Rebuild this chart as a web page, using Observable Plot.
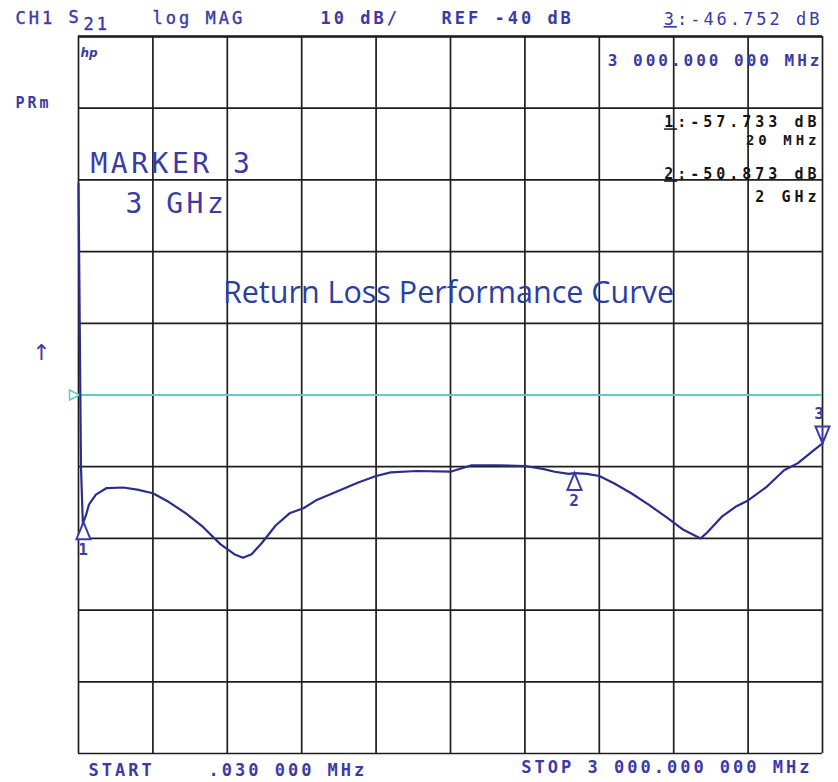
<!DOCTYPE html>
<html>
<head>
<meta charset="utf-8">
<script src="https://cdn.jsdelivr.net/npm/d3@7"></script>
<script src="https://cdn.jsdelivr.net/npm/@observablehq/plot@0.6"></script>
<style>
  html, body { margin: 0; padding: 0; background: #ffffff; }
  #chart svg { display: block; }
</style>
</head>
<body>
<div id="chart"></div>
<script>
const freqMHz = [0.03, 10, 18, 20, 30, 42, 70, 112, 181, 237,
  300, 363, 433, 502, 572, 628, 663, 698, 740, 795,
  851, 907, 963, 1047, 1128, 1200, 1259, 1363, 1500, 1585,
  1689, 1800, 1872, 1920, 1977, 2000, 2050, 2100, 2159, 2229,
  2299, 2369, 2439, 2509, 2537, 2593, 2649, 2700, 2775, 2845,
  2901, 2958, 3000];
const magDB = [-10.5, -50, -58.5, -57.7, -56.8, -55.3, -53.9, -53.0, -52.9, -53.2,
  -53.7, -54.9, -56.5, -58.4, -60.8, -62.2, -62.7, -62.2, -60.6, -58.2,
  -56.5, -55.8, -54.6, -53.4, -52.2, -51.3, -50.8, -50.6, -50.7, -49.8,
  -49.8, -49.9, -50.3, -50.7, -51.0, -50.9, -51.0, -51.3, -52.3, -53.7,
  -55.3, -57.0, -58.8, -60.0, -59.1, -57.0, -55.6, -54.7, -52.8, -50.5,
  -49.5, -47.9, -46.75];

const markerIds = [1, 2, 3];
const markerFreqMHz = [20, 2000, 3000];
const markerDB = [-57.733, -50.873, -46.752];

const refLevelDB = -40;
const xGridMHz = [0, 300, 600, 900, 1200, 1500, 1800, 2100, 2400, 2700, 3000];
const yGridDB = [10, 0, -10, -20, -30, -40, -50, -60, -70, -80, -90];

// ---- Build tables ----
const trace = freqMHz.map((f, i) => ({f, db: magDB[i]}));
const markers = markerIds.map((id, i) => ({id, f: markerFreqMHz[i], db: markerDB[i]}));

// ---- Styling ----
const BLUE = "#3b3aa6";
const TRACE = "#2b2d8c";
const CYAN = "#62c9cc";
const GRID = "#1e1e1e";
const READ = "#151515";
const MONO = "DejaVu Sans Mono, monospace";

// custom symbols: triangle with tip at the anchor point
const triUp = {draw(ctx) { ctx.moveTo(0, 0); ctx.lineTo(-7, 17); ctx.lineTo(7, 17); ctx.closePath(); }};
const triDown = {draw(ctx) { ctx.moveTo(0, 0); ctx.lineTo(-7, -17); ctx.lineTo(7, -17); ctx.closePath();
  ctx.moveTo(0, 0); ctx.lineTo(0, -17); }};
const triRight = {draw(ctx) { ctx.moveTo(5, 0); ctx.lineTo(-5, -5); ctx.lineTo(-5, 5); ctx.closePath(); }};

const hdr = {fontFamily: MONO, fontSize: 17, fill: BLUE, fontWeight: "bold", lineAnchor: "middle"};
const readout = {fontFamily: MONO, fontSize: 15, fill: READ, fontWeight: "bold", lineAnchor: "middle", textAnchor: "end", frameAnchor: "top-right"};
const big = {fontFamily: MONO, fontSize: 28, fill: BLUE, lineAnchor: "middle", textAnchor: "start", frameAnchor: "top-left"};

const chart = Plot.plot({
  width: 838,
  height: 782,
  marginLeft: 78,
  marginRight: 16,
  marginTop: 36,
  marginBottom: 29,
  x: {domain: [0, 3000], axis: null},
  y: {domain: [-90, 10], axis: null},
  style: {background: "#ffffff", fontFamily: MONO},
  marks: [
    // graticule
    Plot.ruleX(xGridMHz, {stroke: GRID, strokeWidth: 1.7}),
    Plot.ruleY(yGridDB, {stroke: GRID, strokeWidth: 1.7}),
    Plot.ruleY([10], {stroke: GRID, strokeWidth: 2.4}),
    // reference line
    Plot.ruleY([refLevelDB], {stroke: CYAN, strokeWidth: 2}),
    Plot.dot([refLevelDB], {y: d => d, frameAnchor: "left", dx: -4, symbol: triRight, stroke: CYAN, fill: "white", strokeWidth: 1.5, r: 5}),
    // trace
    Plot.line(trace, {x: "f", y: "db", stroke: TRACE, strokeWidth: 2.2, strokeLinejoin: "round"}),
    // markers
    Plot.dot(markers.filter(d => d.id !== 3), {x: "f", y: "db", symbol: triUp, stroke: BLUE, fill: "white", strokeWidth: 2, r: 7}),
    Plot.dot(markers.filter(d => d.id === 3), {x: "f", y: "db", symbol: triDown, stroke: BLUE, fill: "white", strokeWidth: 2, r: 7}),
    Plot.text(markers.filter(d => d.id !== 3), {x: "f", y: "db", text: "id", dy: 28, dx: 1, fontFamily: MONO, fontSize: 16, fontWeight: "bold", fill: BLUE}),
    Plot.text(markers.filter(d => d.id === 3), {x: "f", y: "db", text: "id", dy: -30, dx: -2, fontFamily: MONO, fontSize: 16, fontWeight: "bold", fill: BLUE}),

    // header above the graticule
    Plot.text(["CH1"], {...hdr, frameAnchor: "top-left", textAnchor: "start", dx: -63, dy: -18, fontWeight: "normal", stroke: BLUE, strokeWidth: 0.4}),
    Plot.text(["S"], {...hdr, frameAnchor: "top-left", textAnchor: "start", dx: -10, dy: -19, fontWeight: "normal", stroke: BLUE, strokeWidth: 0.4}),
    Plot.text(["21"], {...hdr, frameAnchor: "top-left", textAnchor: "start", dx: 5, dy: -12, fontWeight: "normal", stroke: BLUE, strokeWidth: 0.4}),
    Plot.text(["log MAG"], {...hdr, frameAnchor: "top-left", textAnchor: "start", dx: 74, dy: -18, fontWeight: "normal", stroke: BLUE, strokeWidth: 0.4}),
    Plot.text(["10 dB/"], {...hdr, frameAnchor: "top-left", textAnchor: "start", dx: 242, dy: -18}),
    Plot.text(["REF -40 dB"], {...hdr, frameAnchor: "top-left", textAnchor: "start", dx: 363, dy: -18}),
    Plot.text(["3\u0332:-46.752 dB"], {...hdr, frameAnchor: "top-right", textAnchor: "end", dx: 0, dy: -17, fontWeight: "normal"}),
    Plot.text(["PRm"], {...hdr, frameAnchor: "top-left", textAnchor: "start", dx: -63, dy: 67, fontSize: 15}),
    Plot.text(["\u2191"], {frameAnchor: "top-left", textAnchor: "middle", dx: -37, dy: 316, fontSize: 22, fontFamily: "DejaVu Sans, sans-serif", fill: BLUE, lineAnchor: "middle"}),

    // readouts inside the graticule
    Plot.text(["hp"], {frameAnchor: "top-left", textAnchor: "start", dx: 2, dy: 17, fontFamily: "DejaVu Sans, sans-serif", fontStyle: "italic", fontWeight: "bold", fontSize: 12, fill: BLUE, lineAnchor: "middle"}),
    Plot.text(["3 000.000 000 MHz"], {...readout, dy: 24, fill: BLUE, fontSize: 16}),
    Plot.text(["1\u0332:-57.733 dB"], {...readout, dy: 86, dx: -2}),
    Plot.text(["20 MHz"], {...readout, dy: 104, dx: -2, fontSize: 14}),
    Plot.text(["2\u0332:-50.873 dB"], {...readout, dy: 138, dx: -2}),
    Plot.text(["2 GHz"], {...readout, dy: 161, dx: -2}),
    Plot.text(["MARKER 3"], {...big, dx: 12, dy: 128}),
    Plot.text(["3 GHz"], {...big, dx: 47, dy: 168}),
    Plot.text(["Return Loss Performance Curve"], {frameAnchor: "top", dx: -2, dy: 257, fontFamily: "Open Sans, sans-serif", fontSize: 30.5, fill: "#2a3f9e", lineAnchor: "middle"}),

    // footer
    Plot.text(["START"], {...hdr, frameAnchor: "bottom-left", textAnchor: "start", dx: 10, dy: 17}),
    Plot.text([".030 000 MHz"], {...hdr, frameAnchor: "bottom-left", textAnchor: "start", dx: 130, dy: 17}),
    Plot.text(["STOP 3 000.000 000 MHz"], {...hdr, frameAnchor: "bottom-right", textAnchor: "end", dx: -10, dy: 14})
  ]
});

// analyzer font is wide: add letter spacing to the mono texts; underline marker digits
d3.select(chart).selectAll("text").each(function() {
  const el = d3.select(this);
  const p = this.parentNode;
  const fam = el.attr("font-family") || (p && p.getAttribute("font-family")) || "";
  const fill = el.attr("fill") || (p && p.getAttribute("fill")) || "";
  if (/Mono/.test(fam)) {
    const fs = +(el.attr("font-size") || (p && p.getAttribute("font-size")) || 0);
    if (fs >= 26) el.style("letter-spacing", "3.5px");
    else if (fill === READ) el.style("letter-spacing", "4px");
    else el.style("letter-spacing", "3px");
  }
  const t = this.textContent;
  if (t.includes("\u0332")) {
    const [digit, rest] = t.split("\u0332");
    el.text(null);
    el.append("tspan").attr("text-decoration", "underline").text(digit);
    el.append("tspan").text(rest);
  }
});

document.getElementById("chart").appendChild(chart);
</script>
</body>
</html>
